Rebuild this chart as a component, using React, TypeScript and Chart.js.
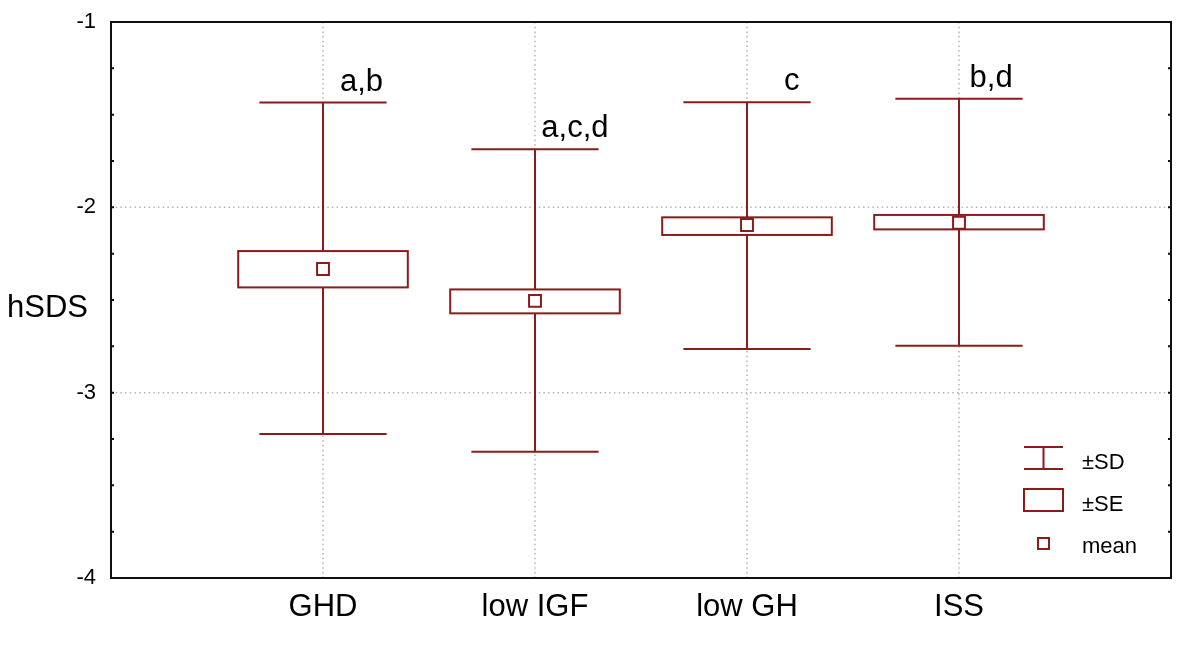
import React, { useEffect, useRef } from "react";
import { Chart, registerables } from "chart.js";

Chart.register(...registerables);

// ---- data ----
const categories = ["GHD", "low IGF", "low GH", "ISS"];
const means = [-2.333, -2.505, -2.095, -2.083];
const seLow = [-2.432, -2.572, -2.149, -2.119];
const seHigh = [-2.236, -2.443, -2.054, -2.041];
const sdLow = [-3.223, -3.319, -2.764, -2.747];
const sdHigh = [-1.435, -1.687, -1.433, -1.414];
const groupLabels = ["a,b", "a,c,d", "c", "b,d"];
const yTickValues = [-1, -2, -3, -4];
const legendLabels = ["±SD", "±SE", "mean"];
const yTitle = "hSDS";

// ---- styles ----
const RED = "#8a1c1c";
const FONT = "'Liberation Sans', Arial, Helvetica, sans-serif";
const BOX_HALF = 0.4; // in x units
const CAP_HALF = 0.3;
const LABEL_NUDGE = [0.08, 0.03, 0.175, 0.05];
const MINOR_STEP = 0.25;

const drawPlugin = {
  id: "boxWhisker",
  beforeDatasetsDraw(chart: any) {
    const { ctx, chartArea: a, scales } = chart;
    const xs = scales.x;
    const ys = scales.y;
    ctx.save();
    // dotted grid
    ctx.strokeStyle = "#b4b4b4";
    ctx.lineWidth = 1.5;
    ctx.setLineDash([1.5, 3.2]);
    yTickValues.forEach((v) => {
      const py = ys.getPixelForValue(v);
      if (Math.abs(py - a.top) < 2 || Math.abs(py - a.bottom) < 2) return;
      ctx.beginPath();
      ctx.moveTo(a.left, py);
      ctx.lineTo(a.right, py);
      ctx.stroke();
    });
    categories.forEach((_, i) => {
      const px = xs.getPixelForValue(i + 1);
      ctx.beginPath();
      ctx.moveTo(px, a.top);
      ctx.lineTo(px, a.bottom);
      ctx.stroke();
    });
    ctx.setLineDash([]);
    // whiskers and boxes
    ctx.strokeStyle = RED;
    ctx.lineWidth = 2;
    categories.forEach((_, i) => {
      const cx = xs.getPixelForValue(i + 1);
      const capL = xs.getPixelForValue(i + 1 - CAP_HALF);
      const capR = xs.getPixelForValue(i + 1 + CAP_HALF);
      const yHi = ys.getPixelForValue(sdHigh[i]);
      const yLo = ys.getPixelForValue(sdLow[i]);
      ctx.beginPath();
      ctx.moveTo(cx, yHi);
      ctx.lineTo(cx, yLo);
      ctx.moveTo(capL, yHi);
      ctx.lineTo(capR, yHi);
      ctx.moveTo(capL, yLo);
      ctx.lineTo(capR, yLo);
      ctx.stroke();
      const bL = xs.getPixelForValue(i + 1 - BOX_HALF);
      const bR = xs.getPixelForValue(i + 1 + BOX_HALF);
      const bT = ys.getPixelForValue(seHigh[i]);
      const bB = ys.getPixelForValue(seLow[i]);
      ctx.fillStyle = "#fff";
      ctx.fillRect(bL, bT, bR - bL, bB - bT);
      ctx.strokeRect(bL, bT, bR - bL, bB - bT);
    });
    ctx.restore();
  },
  afterDraw(chart: any) {
    const { ctx, chartArea: a, scales } = chart;
    const xs = scales.x;
    const ys = scales.y;
    ctx.save();
    // frame
    ctx.strokeStyle = "#111";
    ctx.lineWidth = 2;
    ctx.strokeRect(a.left, a.top, a.right - a.left, a.bottom - a.top);
    // minor inner ticks on left and right axes
    ctx.lineWidth = 2;
    for (let v = ys.min + MINOR_STEP; v < ys.max - 1e-9; v += MINOR_STEP) {
      const py = ys.getPixelForValue(v);
      ctx.beginPath();
      ctx.moveTo(a.left, py);
      ctx.lineTo(a.left + 3, py);
      ctx.moveTo(a.right, py);
      ctx.lineTo(a.right - 3, py);
      ctx.stroke();
    }
    // group letters
    ctx.fillStyle = "#000";
    ctx.font = `31px ${FONT}`;
    ctx.textAlign = "left";
    ctx.textBaseline = "alphabetic";
    groupLabels.forEach((t, i) => {
      const px = xs.getPixelForValue(i + 1 + LABEL_NUDGE[i]);
      const py = ys.getPixelForValue(sdHigh[i]) - 12;
      ctx.fillText(t, px, py);
    });
    // y title (horizontal)
    ctx.font = `31px ${FONT}`;
    ctx.fillText(yTitle, 7, 317);
    // legend
    const sx1 = a.right - 147;
    const sx2 = a.right - 108;
    const smid = (sx1 + sx2) / 2;
    const tx = a.right - 89;
    ctx.strokeStyle = RED;
    ctx.lineWidth = 2;
    // SD symbol
    const yb = a.bottom - 109;
    ctx.beginPath();
    ctx.moveTo(sx1, yb - 22);
    ctx.lineTo(sx2, yb - 22);
    ctx.moveTo(sx1, yb);
    ctx.lineTo(sx2, yb);
    ctx.moveTo(smid, yb - 22);
    ctx.lineTo(smid, yb);
    ctx.stroke();
    // SE symbol
    const yb2 = a.bottom - 67;
    ctx.strokeRect(sx1, yb2 - 22, sx2 - sx1, 22);
    // mean symbol
    const yb3 = a.bottom - 29;
    ctx.strokeRect(smid - 5.5, yb3 - 11, 11, 11);
    ctx.fillStyle = "#000";
    ctx.font = `22px ${FONT}`;
    ctx.fillText(legendLabels[0], tx, yb);
    ctx.fillText(legendLabels[1], tx, yb2);
    ctx.fillText(legendLabels[2], tx, a.bottom - 25);
    ctx.restore();
  },
};

export default function App() {
  const ref = useRef<HTMLCanvasElement | null>(null);
  useEffect(() => {
    if (!ref.current) return;
    const chart = new Chart(ref.current, {
      type: "scatter",
      data: {
        datasets: [
          {
            label: "mean",
            data: categories.map((_, i) => ({ x: i + 1, y: means[i] })),
            pointStyle: "rect",
            pointRadius: 8.4,
            pointBorderWidth: 2,
            borderColor: RED,
            backgroundColor: "#fff",
            showLine: false,
          },
        ],
      },
      options: {
        animation: false,
        responsive: false,
        devicePixelRatio: 1,
        layout: { padding: { left: 0, top: 22, right: 29, bottom: 0 } },
        plugins: {
          legend: { display: false },
          tooltip: { enabled: false },
        },
        scales: {
          x: {
            type: "linear",
            min: 0,
            max: 5,
            grid: { display: false },
            border: { display: false },
            afterFit: (s: any) => {
              s.height = 69;
              s.paddingLeft = 0;
              s.paddingRight = 0;
            },
            ticks: {
              stepSize: 1,
              autoSkip: false,
              maxRotation: 0,
              padding: 3,
              color: "#000",
              font: { family: FONT, size: 31 },
              callback: (v: any) => categories[Number(v) - 1] ?? "",
            },
          },
          y: {
            type: "linear",
            min: -4,
            max: -1,
            grid: { display: false },
            border: { display: false },
            afterFit: (s: any) => {
              s.width = 111;
              s.paddingTop = 0;
              s.paddingBottom = 0;
            },
            ticks: {
              stepSize: 1,
              padding: 7,
              color: "#000",
              font: { family: FONT, size: 22 },
              callback: (v: any) => (yTickValues.includes(Number(v)) ? String(v) : ""),
            },
          },
        },
      },
      plugins: [drawPlugin],
    });
    return () => chart.destroy();
  }, []);
  return (
    <div style={{ position: "absolute", left: 0, top: 0, width: 1200, height: 647, background: "#fff" }}>
      <canvas ref={ref} width={1200} height={647} />
    </div>
  );
}
